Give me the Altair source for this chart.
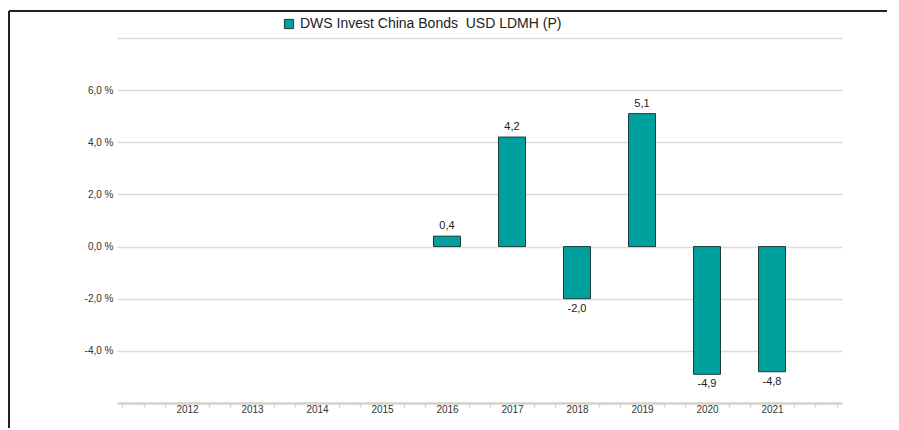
import altair as alt
import pandas as pd

# ---- data ----
years = [2012, 2013, 2014, 2015, 2016, 2017, 2018, 2019, 2020, 2021]
returns = [None, None, None, None, 0.4, 4.2, -2.0, 5.1, -4.9, -4.8]
series_name = "DWS Invest China Bonds\u00a0 USD LDMH (P)"
y_tick_values = [-4, -2, 0, 2, 4, 6, 8]

rows = [
    {"year": y, "value": v, "series": series_name}
    for y, v in zip(years, returns)
    if v is not None
]
df = pd.DataFrame(rows)

# minor tick positions: every third of a year, except under the year labels
minor_ticks = [2011 + i / 3 for i in range(34) if i % 3 != 0 or i in (0, 33)]

FONT = "Liberation Sans"
TEAL = "#00a09e"
EDGE = "#1d3b3b"
GRID = "#dfdcd5"
AXIS = "#d6d2c8"

fmt_label = ("(datum.value < 0 ? '-' : '') + "
             "replace(format(abs(datum.value), '.1f'), '.', ',')")

x_scale = alt.Scale(domain=[2011, 2022], nice=False, zero=False)

x_major = alt.X(
    "year:Q",
    title=None,
    scale=x_scale,
    axis=alt.Axis(
        orient="bottom",
        values=years,
        format="d",
        ticks=False,
        domainColor=AXIS,
        domainWidth=2.5,
        grid=False,
        labelFontSize=10,
        labelColor="#333333",
        labelPadding=1,
        labelFlush=False,
        labelOverlap=False,
    ),
)

x_minor = alt.X(
    "year:Q",
    title=None,
    scale=x_scale,
    axis=alt.Axis(
        orient="bottom",
        values=minor_ticks,
        labels=False,
        domain=False,
        grid=False,
        tickColor=AXIS,
        tickSize=4,
        tickWidth=1.5,
    ),
)

x_plain = alt.X("year:Q", title=None, scale=x_scale, axis=None)

y_enc = alt.Y(
    "value:Q",
    title=None,
    scale=alt.Scale(domain=[-6, 8], nice=False, zero=False),
    axis=alt.Axis(
        values=y_tick_values,
        labelExpr=("datum.value > 7 ? '' : "
                   "(datum.value < 0 ? '-' : '') + "
                   "replace(format(abs(datum.value), '.1f'), '.', ',') + ' %'"),
        ticks=False,
        domain=False,
        grid=True,
        gridColor=GRID,
        gridWidth=1.5,
        labelFontSize=10,
        labelColor="#333333",
        labelPadding=4,
    ),
)

base = alt.Chart(df)

ticks_layer = base.mark_point(opacity=0).encode(
    x=x_minor,
    y=alt.Y("value:Q"),
)

bars = base.mark_bar(size=27, stroke=EDGE, strokeWidth=1).encode(
    x=x_major,
    y=y_enc,
    y2=alt.datum(0),
    color=alt.Color(
        "series:N",
        scale=alt.Scale(range=[TEAL]),
        legend=alt.Legend(
            orient="none",
            legendX=165,
            legendY=-21,
            title=None,
            symbolType="square",
            symbolSize=85,
            symbolStrokeColor=EDGE,
            symbolStrokeWidth=1,
            labelFontSize=14,
            labelColor="#222222",
            labelFont=FONT,
            labelLimit=400,
        ),
    ),
)

pos_labels = (
    base.transform_filter("datum.value >= 0")
    .transform_calculate(label=fmt_label)
    .mark_text(baseline="bottom", dy=-5, fontSize=11, color="#222222", font=FONT)
    .encode(x=x_plain, y="value:Q", text="label:N")
)

neg_labels = (
    base.transform_filter("datum.value < 0")
    .transform_calculate(label=fmt_label)
    .mark_text(baseline="top", dy=4, fontSize=11, color="#222222", font=FONT)
    .encode(x=x_plain, y="value:Q", text="label:N")
)

frame_data = alt.Data(values=[{"k": 1}])
frame_top = alt.Chart(frame_data).mark_rule(color="#222222", strokeWidth=2).encode(
    x=alt.value(-108), x2=alt.value(770), y=alt.value(-27)
)
frame_left = alt.Chart(frame_data).mark_rule(color="#222222", strokeWidth=2).encode(
    x=alt.value(-108), y=alt.value(-27), y2=alt.value(400)
)

chart = (
    alt.layer(bars, ticks_layer, pos_labels, neg_labels, frame_top, frame_left)
    .resolve_axis(x="independent")
    .properties(
        width=725,
        height=365,
        padding={"left": 109, "top": 30, "right": 46, "bottom": 25},
        autosize=alt.AutoSizeParams(type="none"),
        background="white",
    )
    .configure_view(stroke=None)
    .configure_axis(labelFont=FONT)
)

chart.save("out.html", embed_options={"renderer": "svg", "actions": False})
